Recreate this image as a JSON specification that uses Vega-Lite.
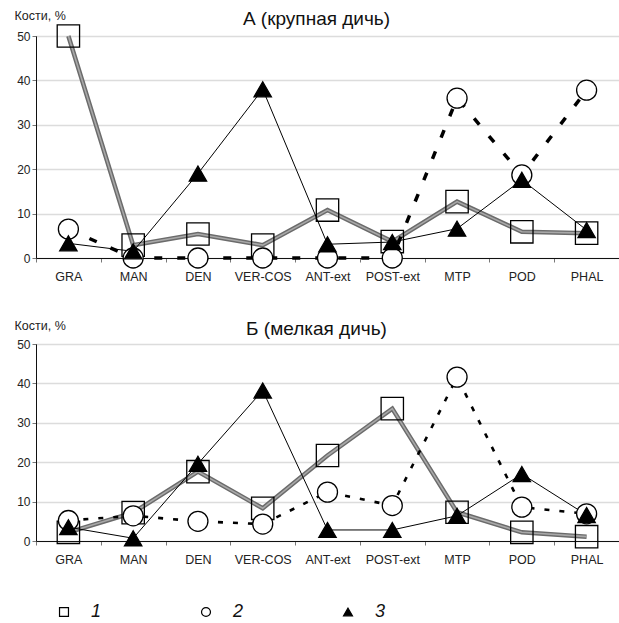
{
  "$schema": "https://vega.github.io/schema/vega-lite/v6.json",
  "padding": {"left": 13, "top": 8, "right": 0, "bottom": 0},
  "background": "white",
  "spacing": 35,
  "resolve": {"legend": {"shape": "independent", "fill": "independent", "stroke": "independent"}},
  "config": {
    "font": "Liberation Sans",
    "view": {"stroke": "#333", "strokeWidth": 1},
    "axis": {"labelFont": "Liberation Sans", "labelColor": "#222", "titleFont": "Liberation Sans", "titleColor": "#222"},
    "title": {"font": "Liberation Sans", "fontSize": 19, "fontWeight": "normal", "color": "#111"}
  },
  "datasets": {
    "A": [
      {"c": "GRA", "s": "1", "v": 50}, {"c": "MAN", "s": "1", "v": 2.9}, {"c": "DEN", "s": "1", "v": 5.4},
      {"c": "VER-COS", "s": "1", "v": 2.9}, {"c": "ANT-ext", "s": "1", "v": 10.8}, {"c": "POST-ext", "s": "1", "v": 3.7},
      {"c": "MTP", "s": "1", "v": 12.7}, {"c": "POD", "s": "1", "v": 5.9}, {"c": "PHAL", "s": "1", "v": 5.6},
      {"c": "GRA", "s": "2", "v": 6.5}, {"c": "MAN", "s": "2", "v": 0}, {"c": "DEN", "s": "2", "v": 0},
      {"c": "VER-COS", "s": "2", "v": 0}, {"c": "ANT-ext", "s": "2", "v": 0}, {"c": "POST-ext", "s": "2", "v": 0},
      {"c": "MTP", "s": "2", "v": 36}, {"c": "POD", "s": "2", "v": 18.7}, {"c": "PHAL", "s": "2", "v": 37.8},
      {"c": "GRA", "s": "3", "v": 3.3}, {"c": "MAN", "s": "3", "v": 1.5}, {"c": "DEN", "s": "3", "v": 19},
      {"c": "VER-COS", "s": "3", "v": 38}, {"c": "ANT-ext", "s": "3", "v": 3.1}, {"c": "POST-ext", "s": "3", "v": 3.6},
      {"c": "MTP", "s": "3", "v": 6.6}, {"c": "POD", "s": "3", "v": 17.6}, {"c": "PHAL", "s": "3", "v": 6.3}
    ],
    "B": [
      {"c": "GRA", "s": "1", "v": 2.2}, {"c": "MAN", "s": "1", "v": 7.2}, {"c": "DEN", "s": "1", "v": 17.6},
      {"c": "VER-COS", "s": "1", "v": 8.3}, {"c": "ANT-ext", "s": "1", "v": 21.7}, {"c": "POST-ext", "s": "1", "v": 33.6},
      {"c": "MTP", "s": "1", "v": 7.3}, {"c": "POD", "s": "1", "v": 2.2}, {"c": "PHAL", "s": "1", "v": 1.1},
      {"c": "GRA", "s": "2", "v": 5.2}, {"c": "MAN", "s": "2", "v": 6.4}, {"c": "DEN", "s": "2", "v": 5},
      {"c": "VER-COS", "s": "2", "v": 4.3}, {"c": "ANT-ext", "s": "2", "v": 12.4}, {"c": "POST-ext", "s": "2", "v": 9},
      {"c": "MTP", "s": "2", "v": 41.6}, {"c": "POD", "s": "2", "v": 8.6}, {"c": "PHAL", "s": "2", "v": 6.9},
      {"c": "GRA", "s": "3", "v": 3.5}, {"c": "MAN", "s": "3", "v": 0.7}, {"c": "DEN", "s": "3", "v": 19.6},
      {"c": "VER-COS", "s": "3", "v": 38.2}, {"c": "ANT-ext", "s": "3", "v": 2.8}, {"c": "POST-ext", "s": "3", "v": 2.8},
      {"c": "MTP", "s": "3", "v": 6.4}, {"c": "POD", "s": "3", "v": 17}, {"c": "PHAL", "s": "3", "v": 6.6}
    ]
  },
  "vconcat": [
    {
      "title": {"text": "А (крупная дичь)", "dx": -11, "offset": -20},
      "width": 583,
      "height": 222,
      "data": {"name": "A"},
      "encoding": {
        "x": {"field": "c", "type": "nominal", "sort": ["GRA", "MAN", "DEN", "VER-COS", "ANT-ext", "POST-ext", "MTP", "POD", "PHAL"],
          "scale": {"type": "band", "paddingInner": 0, "paddingOuter": 0},
          "axis": {"title": null, "labelAngle": 0, "tickBand": "extent", "domainColor": "#111", "tickColor": "#777", "tickSize": 4, "labelPadding": 8, "labelFontSize": 12.5, "grid": false}},
        "y": {"field": "v", "type": "quantitative", "scale": {"domain": [0, 50], "nice": false},
          "axis": {"values": [0, 10, 20, 30, 40, 50], "title": "Кости, %", "titleAngle": 0, "titleAlign": "left", "titleBaseline": "middle", "titleX": -22, "titleY": -21, "titleFontSize": 12.5, "titleFontWeight": "normal",
            "tickSize": 4, "tickColor": "#777", "labelPadding": 2, "labelFontSize": 12, "gridColor": "#dcdcdc", "gridWidth": 1.5, "domainColor": "#111"}}
      },
      "layer": [
        {"transform": [{"filter": "datum.s === '1'"}], "mark": {"type": "line", "color": "#6b6b6b", "strokeWidth": 4.5}},
        {"transform": [{"filter": "datum.s === '1'"}], "mark": {"type": "line", "color": "#a8a8a8", "strokeWidth": 1.6}},
        {"transform": [{"filter": "datum.s === '2'"}], "mark": {"type": "line", "color": "black", "strokeWidth": 3.5, "strokeDash": [8, 15]}},
        {"transform": [{"filter": "datum.s === '3'"}], "mark": {"type": "line", "color": "black", "strokeWidth": 1}},
        {"mark": {"type": "point", "filled": true, "strokeWidth": 1.3, "opacity": 1},
          "encoding": {
            "shape": {"field": "s", "type": "nominal", "scale": {"domain": ["1", "2", "3"], "range": ["square", "circle", "triangle-up"]}, "legend": null},
            "fill": {"field": "s", "type": "nominal", "scale": {"domain": ["1", "2", "3"], "range": ["transparent", "white", "black"]}, "legend": null},
            "stroke": {"field": "s", "type": "nominal", "scale": {"domain": ["1", "2", "3"], "range": ["black", "black", "black"]}, "legend": null},
            "size": {"field": "s", "type": "ordinal", "scale": {"domain": ["1", "2", "3"], "range": [500, 300, 420]}, "legend": null}
          }}
      ]
    },
    {
      "title": {"text": "Б (мелкая дичь)", "dx": -11, "offset": -20},
      "width": 583,
      "height": 197,
      "data": {"name": "B"},
      "encoding": {
        "x": {"field": "c", "type": "nominal", "sort": ["GRA", "MAN", "DEN", "VER-COS", "ANT-ext", "POST-ext", "MTP", "POD", "PHAL"],
          "scale": {"type": "band", "paddingInner": 0, "paddingOuter": 0},
          "axis": {"title": null, "labelAngle": 0, "tickBand": "extent", "domainColor": "#111", "tickColor": "#777", "tickSize": 4, "labelPadding": 8, "labelFontSize": 12.5, "grid": false}},
        "y": {"field": "v", "type": "quantitative", "scale": {"domain": [0, 50], "nice": false},
          "axis": {"values": [0, 10, 20, 30, 40, 50], "title": "Кости, %", "titleAngle": 0, "titleAlign": "left", "titleBaseline": "middle", "titleX": -22, "titleY": -19, "titleFontSize": 12.5, "titleFontWeight": "normal",
            "tickSize": 4, "tickColor": "#777", "labelPadding": 2, "labelFontSize": 12, "gridColor": "#dcdcdc", "gridWidth": 1.5, "domainColor": "#111"}}
      },
      "layer": [
        {"transform": [{"filter": "datum.s === '1'"}], "mark": {"type": "line", "color": "#6b6b6b", "strokeWidth": 4.5}},
        {"transform": [{"filter": "datum.s === '1'"}], "mark": {"type": "line", "color": "#a8a8a8", "strokeWidth": 1.6}},
        {"transform": [{"filter": "datum.s === '2'"}], "mark": {"type": "line", "color": "black", "strokeWidth": 2.6, "strokeDash": [5, 10]}},
        {"transform": [{"filter": "datum.s === '3'"}], "mark": {"type": "line", "color": "black", "strokeWidth": 1}},
        {"mark": {"type": "point", "filled": true, "strokeWidth": 1.3, "opacity": 1},
          "encoding": {
            "shape": {"field": "s", "type": "nominal", "scale": {"domain": ["1", "2", "3"], "range": ["square", "circle", "triangle-up"]},
              "legend": {"title": null, "orient": "none", "legendX": 19, "legendY": 259, "direction": "horizontal", "symbolSize": 80, "symbolStrokeWidth": 1.2, "labelOffset": 18, "columnPadding": 95,
                "labelFont": "Liberation Sans", "labelFontSize": 18, "labelFontStyle": "italic", "labelColor": "#111", "padding": 0}},
            "fill": {"field": "s", "type": "nominal", "scale": {"domain": ["1", "2", "3"], "range": ["transparent", "white", "black"]},
              "legend": {"title": null, "orient": "none", "legendX": 19, "legendY": 259, "direction": "horizontal", "symbolSize": 80, "symbolStrokeWidth": 1.2, "labelOffset": 18, "columnPadding": 95,
                "labelFont": "Liberation Sans", "labelFontSize": 18, "labelFontStyle": "italic", "labelColor": "#111", "padding": 0}},
            "stroke": {"field": "s", "type": "nominal", "scale": {"domain": ["1", "2", "3"], "range": ["black", "black", "black"]},
              "legend": {"title": null, "orient": "none", "legendX": 19, "legendY": 259, "direction": "horizontal", "symbolSize": 80, "symbolStrokeWidth": 1.2, "labelOffset": 18, "columnPadding": 95,
                "labelFont": "Liberation Sans", "labelFontSize": 18, "labelFontStyle": "italic", "labelColor": "#111", "padding": 0}},
            "size": {"field": "s", "type": "ordinal", "scale": {"domain": ["1", "2", "3"], "range": [500, 300, 420]}, "legend": null}
          }}
      ]
    }
  ]
}
